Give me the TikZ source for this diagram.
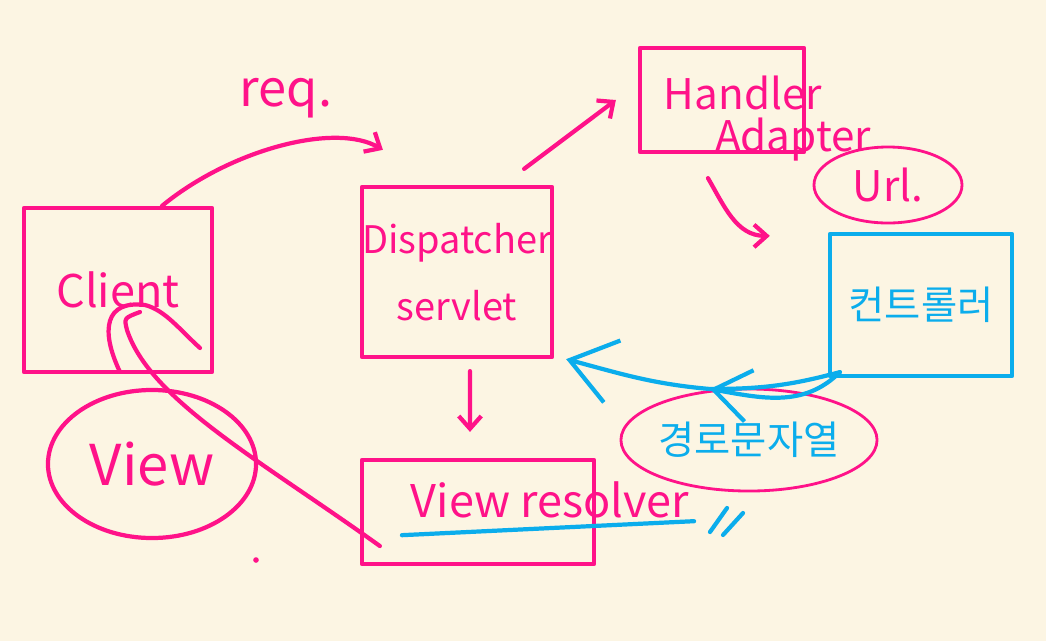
\documentclass[tikz,border=0pt]{standalone}
\usepackage{fontspec}
\setmainfont{Noto Sans CJK KR}
\usetikzlibrary{arrows.meta, shapes.geometric, positioning}
\definecolor{paper}{HTML}{FCF5E3}
\definecolor{marker}{HTML}{FF1289}
\definecolor{sky}{HTML}{0BADEC}
\tikzset{
  pen/.style={line width=3pt, line cap=round, line join=round},
  pinkbox/.style={pen, draw=marker, text=marker, inner sep=0pt},
  bluebox/.style={pen, draw=sky, text=sky, inner sep=0pt},
  thinring/.style={ellipse, line width=2pt, draw=marker, inner sep=0pt},
  pinkarrow/.style={pen, draw=marker, -{Straight Barb[length=9pt, width=16pt]}},
  bluearrow/.style={pen, draw=sky, -{Straight Barb[length=0.9cm, width=1.3cm]}},
}
\newcommand{\hand}[1]{\fontsize{#1}{#1}\selectfont}

\begin{document}
\begin{tikzpicture}[x=0.025cm, y=-0.025cm]
\fill[paper] (0,0) rectangle (1046,641);

\node[pinkbox, minimum width=4.7cm, minimum height=4.1cm, font=\hand{32}] (client) at (118,290) {Client};
\node[pinkbox, minimum width=4.75cm, minimum height=4.25cm, align=center, font=\fontsize{27}{48}\selectfont] (dispatcher) at (457,272) {Dispatcher\\servlet};
\node[pinkbox, minimum width=4.1cm, minimum height=2.6cm] (adapter) at (722,100) {};
\node[text=marker, font=\hand{30}] (handlertext) at (743,93) {Handler};
\node[text=marker, font=\hand{30}] (adaptertext) at (793,140) {Adapter};
\node[thinring, text=marker, minimum width=3.7cm, minimum height=1.9cm, font=\hand{30}] (url) at (888,185) {Url.};
\node[bluebox, minimum width=4.55cm, minimum height=3.55cm, font=\hand{28}] (controller) at (921,305) {컨트롤러};
\node[thinring, text=sky, minimum width=5.95cm, minimum height=2.55cm, font=\hand{28}] (result) at (749,440) {경로문자열};
\node[pinkbox, minimum width=5.8cm, minimum height=2.6cm] (resolver) at (478,512) {};
\node[text=marker, font=\hand{32}] (resolvertext) at (550,500) {View resolver};
\node[pinkbox, ellipse, minimum width=5.2cm, minimum height=3.7cm, font=\hand{40}] (view) at (152,464) {View};
\node[text=marker, font=\hand{36}] (req) at (286,98) {req.};

\draw[pinkarrow] ([xshift=1.1cm]client.north) .. controls +(1.7cm,1.4cm) and +(-1.2cm,0.7cm) .. ([xshift=0.575cm,yshift=0.875cm]dispatcher.north west);
\draw[pinkarrow] ([xshift=-0.75cm,yshift=0.4cm]dispatcher.north east) -- ([xshift=-0.55cm]adapter.west);
\draw[pinkarrow] ([xshift=-0.35cm,yshift=-0.6cm]adapter.south) to[out=-60,in=180] ([xshift=-1.45cm,yshift=-0.1cm]controller.north west);
\draw[pinkarrow] ([xshift=0.325cm,yshift=-0.3cm]dispatcher.south) -- ([xshift=-0.2cm,yshift=0.65cm]resolver.north);

\coordinate (midtip) at (710,389);
\draw[bluearrow, -{Straight Barb[length=1.1cm, width=1.6cm]}] ([xshift=0.3cm,yshift=0.15cm]controller.south west) to[out=195,in=0] (midtip) to[out=175,in=-15] ([xshift=0.3cm]dispatcher.south east);
\draw[bluearrow] ([xshift=0.3cm,yshift=0.15cm]controller.south west) to[out=225,in=-10] (midtip);

\coordinate (hook) at (140,312);
\draw[pen, draw=marker] ([xshift=0.5cm,yshift=-0.85cm]resolver.west) .. controls (260,460) and (150,400) .. (127,330) .. controls (124,318) .. (hook);
\draw[pen, draw=marker] (120,372) .. controls (100,330) and (105,300) .. (145,305) .. controls (165,310) and (180,330) .. (200,348);

\draw[pen, draw=sky] ([xshift=-0.1cm,yshift=-0.3cm]resolvertext.south west) -- ([yshift=0.05cm]resolvertext.south east);
\draw[pen, draw=sky] (710,532) -- (727,508) (723,535) -- (743,513);
\fill[marker] (256,560) circle (2pt);
\end{tikzpicture}
\end{document}
